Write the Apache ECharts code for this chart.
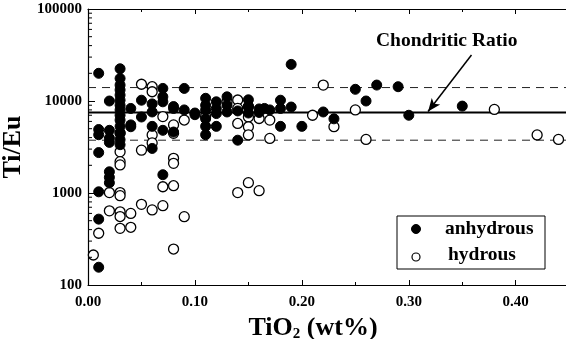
<!DOCTYPE html>
<html><head><meta charset="utf-8">
<script src="https://cdn.jsdelivr.net/npm/echarts@6/dist/echarts.min.js"></script>
<style>html,body{margin:0;padding:0;background:#fff}#c{width:566px;height:339px}</style>
</head><body><div id="c"></div>
<script>
// ---- data ----
const xTickLabels = ['0.00', '0.10', '0.20', '0.30', '0.40'];
const yTickLabels = ['100', '1000', '10000', '100000'];

const anhydrousTiO2 = [
  0.01,0.01,0.01,0.01,0.01,0.01,0.01,
  0.02,0.02,0.02,0.02,0.02,0.02,0.02,
  0.03,0.03,0.03,0.03,0.03,0.03,0.03,0.03,0.03,0.03,0.03,0.03,0.03,0.03,
  0.04,0.04,0.04,
  0.05,0.05,
  0.06,0.06,0.06,0.06,
  0.07,0.07,0.07,0.07,0.07,
  0.08,0.08,0.08,
  0.09,0.09,
  0.10,0.10,
  0.11,0.11,0.11,0.11,0.11,0.11,
  0.12,0.12,0.12,0.12,
  0.13,0.13,0.13,
  0.14,0.14,
  0.15,0.15,0.15,
  0.16,0.16,
  0.165,
  0.17,
  0.18,0.18,0.18,
  0.19,0.19,
  0.20,
  0.22,
  0.23,
  0.25,
  0.26,
  0.27,
  0.29,
  0.30,
  0.35
];
const anhydrousTiEu = [
  20000,4900,4300,2750,1030,520,156,
  10000,4800,3950,3550,1700,1480,1290,
  22400,17600,14900,13200,11600,10200,9000,8000,7000,6200,5300,4500,3800,3350,
  8300,5500,5250,
  10200,6700,
  9300,7600,5300,3050,
  13700,11100,9800,4800,1580,
  8300,8700,4600,
  13700,8000,
  7100,7400,
  10700,9000,8000,6400,5300,4300,
  9800,8300,7300,5300,
  11100,9000,7600,
  7800,3750,
  10300,8700,7400,
  8200,7500,
  8300,
  8000,
  10200,8300,5300,
  25000,8600,
  5300,
  7600,
  6400,
  13400,
  10000,
  14900,
  14300,
  7000,
  8800
];

const hydrousTiO2 = [
  0.005,
  0.01,
  0.02,0.02,
  0.03,0.03,0.03,0.03,0.03,0.03,0.03,0.03,0.03,
  0.04,0.04,
  0.05,0.05,0.05,
  0.06,0.06,0.06,0.06,0.06,
  0.07,0.07,0.07,
  0.08,0.08,0.08,0.08,0.08,0.08,
  0.09,0.09,
  0.11,
  0.13,
  0.14,0.14,0.14,0.14,
  0.15,0.15,0.15,0.15,0.15,
  0.16,0.16,
  0.17,0.17,
  0.21,
  0.22,
  0.23,
  0.25,
  0.26,
  0.38,
  0.42,
  0.44
];
const hydrousTiEu = [
  212,
  365,
  1010,640,
  4450,2800,2190,2020,1010,935,625,555,413,
  600,424,
  15200,2920,753,
  14300,12600,4280,3500,655,
  6770,1170,728,
  5500,4450,2380,2100,1200,246,
  6210,553,
  6800,
  9800,
  10250,8300,5700,1010,
  8700,6700,5250,4280,1295,
  6450,1060,
  6200,3920,
  7000,
  14900,
  5260,
  8000,
  3820,
  8100,
  4280,
  3820
];

const chondriticRatio = 7500;
const upperBound = 14000;
const lowerBound = 3750;
const xRange = [0, 0.447];
const arrowFrom = [0.3586, 31600];
const arrowTo = [0.318, 7700];
const minorDecades = [100, 1000, 10000];
const minorSteps = [2, 3, 4, 5, 6, 7, 8, 9];

// ---- build ----
const FONT = '"Liberation Serif", "DejaVu Serif", serif';
const pairs = (xs, ys) => xs.map((x, i) => [x, ys[i]]);
const minorY = [];
minorDecades.forEach(d => minorSteps.forEach(k => minorY.push(d * k)));

const chart = echarts.init(document.getElementById('c'), null, {renderer: 'canvas'});

const xLabelFmt = v => {
  const r = Math.round(v * 10);
  return Math.abs(v * 10 - r) < 1e-6 ? xTickLabels[r] : '';
};

chart.setOption({
  animation: false,
  backgroundColor: '#fff',
  grid: {left: 88, right: 0, top: 9, bottom: 54, containLabel: false, outerBoundsMode: 'none'},
  xAxis: [{
    type: 'value', min: xRange[0], max: xRange[1], interval: 0.1,
    axisLine: {show: true, onZero: false, lineStyle: {color: '#000', width: 1.2}},
    axisTick: {show: true, inside: true, length: 5, lineStyle: {color: '#000'}},
    minorTick: {show: true, splitNumber: 2, length: 3, lineStyle: {color: '#000'}},
    splitLine: {show: false},
    axisLabel: {formatter: xLabelFmt, color: '#000', fontFamily: FONT, fontWeight: 'bold', fontSize: 15, margin: 10, showMaxLabel: false},
    name: 'TiO{sub|2} (wt%)', nameLocation: 'middle', nameGap: 24,
    nameTextStyle: {color: '#000', fontFamily: FONT, fontWeight: 'bold', fontSize: 26, verticalAlign: 'top',
      padding: [0, 28, 0, 0],
      rich: {sub: {fontFamily: FONT, fontWeight: 'bold', fontSize: 15, padding: [12, 0, 0, 0]}}}
  }, {
    type: 'value', position: 'top', min: xRange[0], max: xRange[1], interval: 0.1,
    axisLine: {show: true, lineStyle: {color: '#000', width: 1.2}},
    axisTick: {show: true, inside: true, length: 5, lineStyle: {color: '#000'}},
    minorTick: {show: true, splitNumber: 2, length: 3, lineStyle: {color: '#000'}},
    splitLine: {show: false}, axisLabel: {show: false}
  }],
  yAxis: {
    type: 'log', logBase: 10, min: 100, max: 100000,
    axisLine: {show: true, onZero: false, lineStyle: {color: '#000', width: 1.2}},
    axisTick: {show: true, inside: true, length: 7, lineStyle: {color: '#000'}},
    splitLine: {show: false},
    axisLabel: {color: '#000', fontFamily: FONT, fontWeight: 'bold', fontSize: 15, margin: 6,
      formatter: v => { const i = Math.round(Math.log10(v)) - 2; return yTickLabels[i] || ''; }},
    name: 'Ti/Eu', nameLocation: 'middle', nameGap: 56, nameRotate: 90,
    nameTextStyle: {color: '#000', fontFamily: FONT, fontWeight: 'bold', fontSize: 26}
  },
  graphic: [
    {type: 'text', left: 376, top: 31, style: {text: 'Chondritic Ratio', fill: '#000', font: 'bold 19.5px ' + FONT}},
    {type: 'rect', shape: {x: 397, y: 216, width: 148, height: 53}, style: {fill: '#fff', stroke: '#000', lineWidth: 1}, z: 100},
    {type: 'circle', shape: {cx: 416, cy: 229, r: 4.5}, style: {fill: '#000', stroke: '#000'}, z: 101},
    {type: 'circle', shape: {cx: 416, cy: 257, r: 4}, style: {fill: '#fff', stroke: '#000', lineWidth: 1.2}, z: 101},
    {type: 'text', left: 445, top: 219, style: {text: 'anhydrous', fill: '#000', font: 'bold 19.5px ' + FONT}, z: 101},
    {type: 'text', left: 448, top: 245, style: {text: 'hydrous', fill: '#000', font: 'bold 19.5px ' + FONT}, z: 101}
  ],
  series: [
    {type: 'line', name: 'upper', data: [[xRange[0], upperBound], [xRange[1], upperBound]], symbol: 'none',
      lineStyle: {color: '#222', width: 1, type: [8, 6]}, silent: true, z: 1},
    {type: 'line', name: 'lower', data: [[xRange[0], lowerBound], [xRange[1], lowerBound]], symbol: 'none',
      lineStyle: {color: '#222', width: 1, type: [8, 6]}, silent: true, z: 1},
    {type: 'line', name: 'chondritic', data: [[xRange[0], chondriticRatio], [xRange[1], chondriticRatio]], symbol: 'none',
      lineStyle: {color: '#000', width: 2}, silent: true, z: 1,
      markLine: {silent: true, symbol: ['none', 'arrow'], symbolSize: [8, 13], label: {show: false},
        lineStyle: {color: '#000', width: 1.5, type: 'solid'},
        data: [[{coord: arrowFrom}, {coord: arrowTo}]]}},
    {type: 'custom', name: 'minor', silent: true, z: 5,
      data: minorY.map(v => [xRange[0], v]),
      renderItem: (params, api) => {
        const p = api.coord([api.value(0), api.value(1)]);
        return {type: 'line', shape: {x1: p[0], y1: p[1], x2: p[0] + 4, y2: p[1]}, style: {stroke: '#000', lineWidth: 1}};
      }},
    {type: 'scatter', name: 'hydrous', data: pairs(hydrousTiO2, hydrousTiEu), symbol: 'circle', symbolSize: 10,
      itemStyle: {color: '#fff', borderColor: '#000', borderWidth: 1.3, opacity: 1}, z: 3},
    {type: 'scatter', name: 'anhydrous', data: pairs(anhydrousTiO2, anhydrousTiEu), symbol: 'circle', symbolSize: 10,
      itemStyle: {color: '#000', borderColor: '#000', borderWidth: 1, opacity: 1}, z: 4}
  ]
});
</script>
</body></html>
